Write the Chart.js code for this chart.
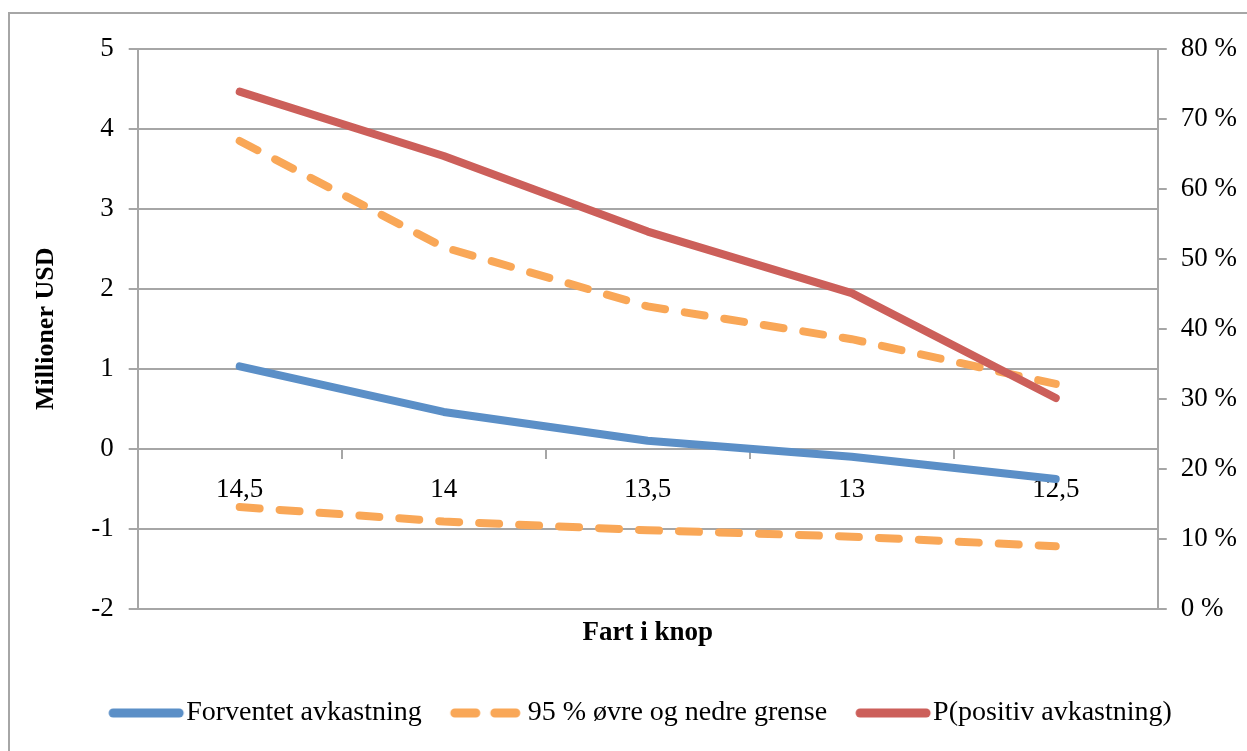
<!DOCTYPE html>
<html>
<head>
<meta charset="utf-8">
<script src="https://cdn.jsdelivr.net/npm/chart.js@4"></script>
<style>
  body { margin: 0; background: #fff; overflow: hidden; }
  #frame { position: absolute; left: 8px; top: 12px; width: 1300px; height: 800px; border: 2px solid #a6a6a6; }
  #wrap { position: absolute; left: 0; top: 0; width: 1247px; height: 751px; }
</style>
</head>
<body>
<div id="frame"></div>
<div id="wrap"><canvas id="chart"></canvas></div>
<script>
const speeds = ['14,5', '14', '13,5', '13', '12,5'];
const expected = [1.03, 0.46, 0.10, -0.10, -0.38];
const upper95 = [3.85, 2.52, 1.78, 1.37, 0.81];
const lower95 = [-0.73, -0.91, -1.02, -1.10, -1.22];
const pPositive = [73.9, 64.7, 53.9, 45.1, 30.1];

const FONT = "'Liberation Serif', 'DejaVu Serif', serif";
const GRID = '#a6a6a6';
const BLUE = '#5b8fc7';
const ORANGE = '#f9a757';
const RED = '#cc5f5a';

// legend swatch: a line drawn into a small canvas so it can sit close to the text
function legendLine(color, dash) {
    const c = document.createElement('canvas');
    c.width = 90;
    c.height = 14;
    const ctx = c.getContext('2d');
    ctx.strokeStyle = color;
    ctx.lineWidth = 9;
    ctx.lineCap = 'round';
    ctx.setLineDash(dash);
    ctx.beginPath();
    ctx.moveTo(17, 7);
    ctx.lineTo(dash.length ? 86 : 83, 7);
    ctx.stroke();
    return c;
}
const swatches = [legendLine(BLUE, []), legendLine(ORANGE, [21, 19]), null, legendLine(RED, [])];

new Chart(document.getElementById('chart'), {
    type: 'line',
    data: {
        labels: speeds,
        datasets: [
            { label: 'Forventet avkastning', data: expected, borderColor: BLUE, backgroundColor: BLUE,
              borderWidth: 8, borderCapStyle: 'round', borderJoinStyle: 'round', pointRadius: 0, order: 1, yAxisID: 'y' },
            { label: '95 % øvre og nedre grense', data: upper95, borderColor: ORANGE, backgroundColor: ORANGE,
              borderWidth: 8, borderDash: [20, 20], borderCapStyle: 'round', pointRadius: 0, order: 2, yAxisID: 'y' },
            { label: '95 % øvre og nedre grense', data: lower95, borderColor: ORANGE, backgroundColor: ORANGE,
              borderWidth: 8, borderDash: [20, 20], borderCapStyle: 'round', pointRadius: 0, order: 2, yAxisID: 'y' },
            { label: 'P(positiv avkastning)', data: pPositive, borderColor: RED, backgroundColor: RED,
              borderWidth: 8, borderCapStyle: 'round', borderJoinStyle: 'round', pointRadius: 0, order: 0, yAxisID: 'y1' }
        ]
    },
    options: {
        responsive: true,
        maintainAspectRatio: false,
        animation: false,
        layout: { padding: { left: 31, right: -4, top: 49, bottom: 14 } },
        plugins: {
            tooltip: { enabled: false },
            legend: {
                position: 'bottom',
                labels: {
                    font: { family: FONT, size: 28 },
                    color: '#000',
                    usePointStyle: true,
                    pointStyleWidth: 62,
                    boxHeight: 28,
                    padding: 30,
                    generateLabels: (chart) => {
                        const items = Chart.defaults.plugins.legend.labels.generateLabels(chart);
                        items.forEach(it => { it.pointStyle = swatches[it.datasetIndex]; });
                        return items;
                    },
                    filter: (item) => item.datasetIndex !== 2,
                    sort: (a, b) => a.datasetIndex - b.datasetIndex
                }
            }
        },
        scales: {
            x: {
                position: 'bottom',
                offset: true,
                ticks: { display: false },
                grid: { display: false },
                border: { display: false },
                title: { display: true, text: 'Fart i knop', color: '#000',
                         font: { family: FONT, size: 27, weight: 'bold' }, padding: { top: 0, bottom: 20 } }
            },
            x2: {
                type: 'category',
                axis: 'x',
                position: { y: 0 },
                offset: true,
                grid: { offset: true, drawOnChartArea: false, drawTicks: true, tickLength: 9, color: GRID, lineWidth: 2 },
                border: { display: true, color: GRID, width: 2 },
                ticks: { color: '#000', font: { family: FONT, size: 27 }, padding: 16, maxRotation: 0 }
            },
            y: {
                position: 'left',
                min: -2,
                max: 5,
                ticks: { stepSize: 1, color: '#000', font: { family: FONT, size: 27 }, padding: 15,
                         callback: (v) => String(v) },
                grid: { color: GRID, lineWidth: 2, tickLength: 9 },
                border: { display: true, color: GRID, width: 2 },
                title: { display: true, text: 'Millioner USD', color: '#000',
                         font: { family: FONT, size: 26, weight: 'bold' }, padding: { top: 0, bottom: 14 } }
            },
            y1: {
                position: 'right',
                min: 0,
                max: 80,
                ticks: { stepSize: 10, color: '#000', font: { family: FONT, size: 27 }, padding: 14,
                         callback: (v) => v + ' %' },
                grid: { drawOnChartArea: false, color: GRID, lineWidth: 2, tickLength: 9 },
                border: { display: true, color: GRID, width: 2 }
            }
        }
    }
});
</script>
</body>
</html>
